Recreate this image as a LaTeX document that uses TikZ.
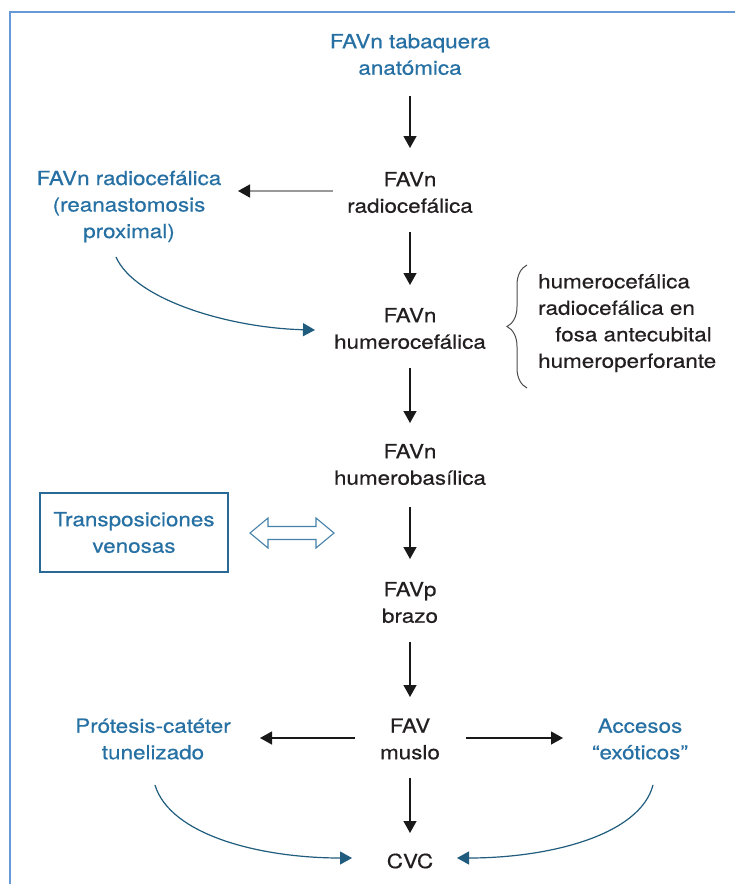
\documentclass[tikz,border=0pt]{standalone}
\usepackage{fontspec}
\setmainfont{TeX Gyre Heros}[FakeStretch=1.15, RawFeature={embolden=0.5}]
\usetikzlibrary{arrows.meta,calc,decorations.pathreplacing}
\definecolor{tblue}{RGB}{38,112,163}
\definecolor{darktxt}{RGB}{35,31,32}
\definecolor{curvecol}{RGB}{31,92,125}
\definecolor{framecol}{RGB}{102,153,214}
\definecolor{boxcol}{RGB}{40,105,150}
\definecolor{hollowcol}{RGB}{70,130,170}
\begin{document}
\begin{tikzpicture}[x=1pt,y=-1pt,
  lbl/.style={font=\fontsize{19.5}{26.5}\selectfont, align=center, inner sep=0pt, text=darktxt},
  bluelbl/.style={lbl, text=tblue},
  tvbox/.style={lbl, text=tblue, draw=boxcol, line width=1.3pt, minimum width=188pt, minimum height=79pt},
  flow/.style={line width=1.3pt, draw=black!90, -{Triangle[length=12pt,width=13pt]}},
  grayflow/.style={line width=1.8pt, draw=black!40, -{Triangle[length=12pt,width=13pt,color=black!90]}},
  curveflow/.style={line width=1.2pt, draw=curvecol, -{Triangle[length=12pt,width=13pt]}},
  bracestyle/.style={draw=black!70, line width=1pt, decorate, decoration={brace, amplitude=20pt}},
  hollow/.style={draw=hollowcol, fill=white, line width=1.1pt, line join=miter},
  framestyle/.style={draw=framecol, line width=2pt}
]
\useasboundingbox (0,0) rectangle (735,884);
\draw[framestyle] (10,884) -- (10,12) -- (735,12);

\node[bluelbl] (n1) at (410,54.5) {FAVn tabaquera\\anatómica};
\node[lbl] (n2) at (410,192.5) {FAVn\\radiocefálica};
\node[bluelbl] (lrad) at (129,206.5) {FAVn radiocefálica\\(reanastomosis\\proximal)};
\node[lbl] (n3) at (410,328.5) {FAVn\\humerocefálica};
\node[lbl, align=left, anchor=west] (types) at (538,323) {humerocefálica\\radiocefálica en\\\hspace*{17pt}fosa antecubital\\humeroperforante};
\node[lbl] (n4) at (410,464.5) {FAVn\\humerobasílica};
\node[tvbox] (tv) at (134,532.5) {Transposiciones\\venosas};
\node[lbl] (n5) at (410,602.5) {FAVp\\brazo};
\node[lbl] (n6) at (410,739) {FAV\\muslo};
\node[bluelbl] (prot) at (153,739) {Prótesis-catéter\\tunelizado};
\node[bluelbl] (acc) at (640,739) {Accesos\\“exóticos”};
\node[lbl] (cvc) at (410,861) {CVC};

% main flow
\draw[flow] ($(n1)+(0,41.5)$) -- ($(n2)+(0,-44.5)$);
\draw[flow] ($(n2)+(0,39.5)$) -- ($(n3)+(0,-43.5)$);
\draw[flow] ($(n3)+(0,39.5)$) -- ($(n4)+(0,-41.5)$);
\draw[flow] ($(n4)+(0,42.5)$) -- ($(n5)+(0,-43.5)$);
\draw[flow] ($(n5)+(0,39.5)$) -- ($(n6)+(0,-42)$);
\draw[flow] ($(n6)+(0,39)$) -- ($(cvc)+(0,-28)$);

% side arrows
\draw[grayflow] ($(n2)+(-77,-1.5)$) -- ($(lrad)+(109,-15.5)$);
\draw[flow] ($(n6)+(-55,-1)$) -- ($(prot)+(107,-1)$);
\draw[flow] ($(n6)+(56,-1)$) -- ($(acc)+(-77,-1)$);

% curved connectors
\draw[curveflow] ($(lrad)+(-13,50.5)$) .. controls (135,300) and (230,328) .. ($(n3)+(-95,1.5)$);
\draw[curveflow] ($(prot)+(2,46)$) .. controls (170,835) and (260,858) .. ($(cvc)+(-58,-3)$);
\draw[curveflow] ($(acc)+(13,46)$) .. controls (640,835) and (550,858) .. ($(cvc)+(47,-3)$);

% brace
\draw[bracestyle] ($(types.west)+(-11,65)$) -- ($(types.west)+(-11,-58)$);

% hollow double arrow
\draw[hollow] (250,533) -- (268,518) -- (268,526.5) -- (316,526.5) -- (316,518) -- (334,533) -- (316,548) -- (316,539.5) -- (268,539.5) -- (268,548) -- cycle;
\end{tikzpicture}
\end{document}
